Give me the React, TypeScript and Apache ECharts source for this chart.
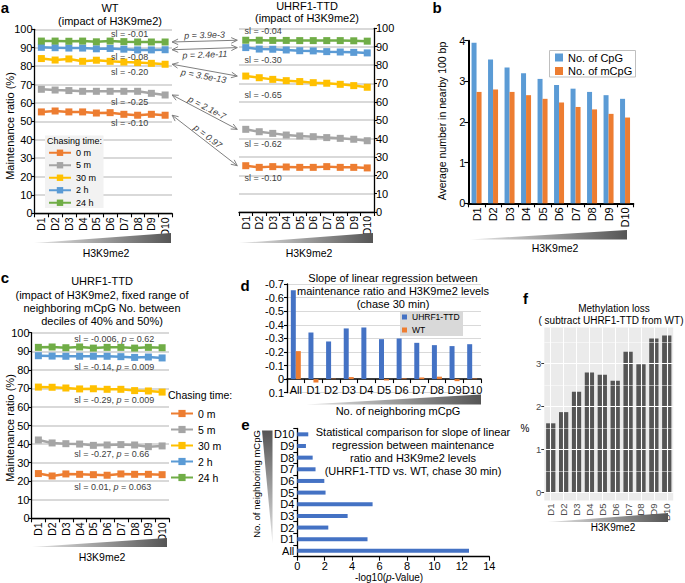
import React, { useEffect, useRef } from "react";
import * as echarts from "echarts";

const FONT = "'Liberation Sans', Arial, Helvetica, sans-serif";

// ---------- data ----------
const deciles = ["D1", "D2", "D3", "D4", "D5", "D6", "D7", "D8", "D9", "D10"];
const chaseTimes = ["0 m", "5 m", "30 m", "2 h", "24 h"];

// panel a, WT
const wt0m = [55.1, 55.6, 55.1, 55.1, 54.5, 54.7, 53.8, 53.3, 53.8, 53.3];
const wt5m = [67.4, 67.0, 66.7, 66.3, 66.3, 66.3, 66.3, 66.3, 65.2, 64.3];
const wt30m = [84.1, 83.3, 83.9, 82.6, 83.2, 82.6, 82.2, 81.9, 81.5, 81.0];
const wt2h = [90.2, 90.0, 89.8, 89.8, 89.4, 89.6, 89.2, 88.8, 88.8, 88.9];
const wt24h = [93.6, 93.6, 93.5, 93.6, 93.2, 93.6, 93.3, 93.1, 93.1, 93.1];

// panel a, UHRF1-TTD
const ttd0m = [25.2, 24.3, 24.7, 24.5, 24.3, 24.3, 24.7, 24.3, 24.3, 24.0];
const ttd5m = [45.0, 43.7, 42.8, 41.9, 41.4, 41.0, 40.5, 40.1, 39.6, 38.8];
const ttd30m = [74.0, 73.1, 72.2, 71.5, 71.0, 70.4, 70.1, 69.5, 68.8, 67.9];
const ttd2h = [89.5, 88.7, 88.6, 88.2, 87.8, 87.7, 87.3, 87.1, 86.9, 86.6];
const ttd24h = [93.5, 93.5, 93.4, 93.4, 93.3, 93.3, 93.3, 93.3, 93.2, 93.0];

// slopes / p-values (order: 0 m, 5 m, 30 m, 2 h, 24 h)
const wtSlopes = ["-0.10", "-0.25", "-0.20", "-0.08", "-0.01"];
const ttdSlopes = ["-0.10", "-0.62", "-0.65", "-0.30", "-0.04"];
const arrowP = ["0.97", "2.1e-7", "3.5e-13", "2.4e-11", "3.9e-3"];

// panel c
const fix0m = [24.1, 22.8, 23.9, 23.7, 23.5, 23.2, 23.9, 23.7, 23.7, 23.5];
const fix5m = [42.2, 40.6, 40.2, 40.0, 39.3, 39.5, 39.7, 39.5, 38.6, 39.0];
const fix30m = [70.7, 70.6, 70.2, 69.7, 69.8, 69.5, 69.5, 68.8, 68.6, 68.0];
const fix2h = [87.6, 87.4, 87.3, 87.3, 87.3, 87.3, 87.1, 86.7, 86.9, 86.4];
const fix24h = [92.1, 92.3, 91.9, 92.3, 91.7, 92.1, 92.1, 91.7, 92.1, 91.9];
const fixSlopes = ["0.01", "-0.27", "-0.29", "-0.14", "-0.006"];
const fixP = ["0.063", "0.66", "0.009", "0.009", "0.62"];

// panel b
const cpgCount = [3.95, 3.54, 3.34, 3.2, 3.06, 2.91, 2.82, 2.74, 2.66, 2.57];
const mcpgCount = [2.74, 2.8, 2.74, 2.66, 2.57, 2.48, 2.37, 2.31, 2.2, 2.11];

// panel d
const mcpgGroups = ["All", "D1", "D2", "D3", "D4", "D5", "D6", "D7", "D8", "D9", "D10"];
const slopeTTD = [-0.654, -0.343, -0.277, -0.373, -0.38, -0.294, -0.299, -0.267, -0.25, -0.243, -0.257];
const slopeWT = [-0.206, 0.025, -0.003, -0.015, 0, 0.01, -0.005, -0.012, -0.018, 0.015, -0.004];

// panel e
const negLogP = [12.52, 5.12, 2.26, 3.67, 5.49, 2.06, 1.97, 1.33, 1.12, 0.63, 0.8];

// panel f
const methLoss = [1.61, 1.87, 2.34, 2.79, 2.74, 2.6, 3.27, 2.98, 3.58, 3.65];
const fMajor = [0, 1, 2, 3];
const fMinor = [0.5, 1.5, 2.5, 3.5];

// ---------- styles ----------
const chaseColors = ["#ed7d31", "#a5a5a5", "#ffc000", "#5b9bd5", "#70ad47"];
const GRID_GRAY = "#d9d9d9";
const NOTE = "#404040";

// positions of slope notes (label placement)
const wtNotePos = [[111, 122.7], [111, 102], [111, 71.7], [111, 56.5], [111, 34]];
const ttdNotePos = [[244.6, 178.4], [244.6, 144.2], [244.6, 95.2], [244.6, 59.5], [244.6, 31.2]];
const fixNotePos = [[74.3, 487], [74.3, 453.5], [74.3, 400.4], [74.3, 367], [74.3, 339]];
const arrowLabelOffset = [5, 5, -6, -6, 6];

function txt(x: number, y: number, text: string, o: any = {}) {
  const align = o.align || "center";
  return {
    type: "text",
    x,
    y,
    rotation: o.rotation || 0,
    z: o.z ?? 6,
    silent: true,
    style: {
      text,
      fontSize: o.size || 11,
      fontFamily: FONT,
      fill: o.color || "#000",
      fontWeight: o.weight || "normal",
      fontStyle: o.italic ? "italic" : "normal",
      textAlign: align,
      textVerticalAlign: "middle",
      align,
      verticalAlign: "middle",
      rich: o.rich,
    },
  };
}

function wedge(points: number[][], vertical = false) {
  return {
    type: "polygon",
    silent: true,
    z: 1,
    shape: { points },
    style: {
      fill: vertical
        ? { type: "linear", x: 0, y: 0, x2: 0, y2: 1, colorStops: [{ offset: 0, color: "#555" }, { offset: 1, color: "#e6e6e6" }] }
        : { type: "linear", x: 0, y: 0, x2: 1, y2: 0, colorStops: [{ offset: 0, color: "#e6e6e6" }, { offset: 1, color: "#555" }] },
    },
  };
}

const axisBlack = (w = 1.3) => ({ show: true, lineStyle: { color: "#000", width: w } });
const tickBlack = (len = 3) => ({ show: true, length: len, lineStyle: { color: "#000", width: 1.1 } });

function catX(grid: number, data: string[], rotate: number, size = 10.5, w = 1.3) {
  return {
    gridIndex: grid,
    type: "category",
    data,
    boundaryGap: true,
    axisLine: axisBlack(w),
    axisTick: tickBlack(4),
    axisLabel: { rotate, fontSize: size, color: "#000", margin: 4, fontFamily: FONT, interval: 0 },
    splitLine: { show: false },
  };
}

function pctY(grid: number, position: "left" | "right") {
  return {
    gridIndex: grid,
    type: "value",
    position,
    min: 0,
    max: 100,
    interval: 10,
    axisLine: axisBlack(1.3),
    axisTick: tickBlack(3),
    axisLabel: { fontSize: 11, color: "#000", margin: 2, fontFamily: FONT },
    splitLine: { show: true, lineStyle: { color: GRID_GRAY, width: 1.8 } },
  };
}

function staticGraphics(): any[] {
  const g: any[] = [];
  // panel letters
  [["a", 5, 7], ["b", 437, 7], ["c", 5, 277], ["d", 245, 285.5], ["e", 245.5, 424.5], ["f", 525.5, 298.5]].forEach(
    ([l, x, y]: any) => g.push(txt(x, y, l, { size: 15, weight: "bold" }))
  );
  // titles
  g.push(txt(110, 7.5, "WT"), txt(110, 20.5, "(impact of H3K9me2)"));
  g.push(txt(307, 5.6, "UHRF1-TTD"), txt(307, 17.8, "(impact of H3K9me2)"));
  g.push(
    txt(102, 281, "UHRF1-TTD"),
    txt(102, 294.5, "(impact of H3K9me2, fixed range of"),
    txt(102, 307.5, "neighboring mCpG No. between"),
    txt(102, 320.5, "deciles of 40% and 50%)")
  );
  g.push(
    txt(393, 278, "Slope of linear regression between"),
    txt(393, 291, "maintenance ratio and H3K9me2 levels"),
    txt(393, 304, "(chase 30 min)")
  );
  g.push(
    txt(413, 432.3, "Statistical comparison for slope of linear"),
    txt(413, 445, "regression between maintenance"),
    txt(413, 458, "ratio and H3K9me2 levels"),
    txt(413, 471, "(UHRF1-TTD vs. WT, chase 30 min)")
  );
  g.push(txt(614, 308.5, "Methylation loss", { size: 10 }), txt(611, 320.5, "( subtract UHRF1-TTD from WT)", { size: 10 }));
  // axis titles
  g.push(txt(10, 126, "Maintenance ratio (%)", { rotation: Math.PI / 2 }));
  g.push(txt(10, 428, "Maintenance ratio (%)", { rotation: Math.PI / 2 }));
  g.push(txt(442, 121, "Average number in nearby 100 bp", { rotation: Math.PI / 2, size: 10.5 }));
  g.push(txt(256, 484, "No. of neighboring mCpG", { rotation: Math.PI / 2, size: 9.5 }));
  g.push(txt(525, 428, "%", { size: 10 }));
  g.push(txt(106, 253, "H3K9me2", { size: 10.5 }));
  g.push(txt(309, 253, "H3K9me2", { size: 10.5 }));
  g.push(txt(555, 248, "H3K9me2", { size: 10.5 }));
  g.push(txt(102, 557, "H3K9me2", { size: 10.5 }));
  g.push(txt(613, 527.5, "H3K9me2", { size: 10 }));
  g.push(txt(398, 410.5, "No. of neighboring mCpG", { size: 11 }));
  g.push(
    txt(389, 577, "-log10({i|p}-Value)", {
      size: 10,
      rich: { i: { fontStyle: "italic", fontSize: 10, fontFamily: FONT, fill: "#000" } },
    })
  );
  // wedges
  g.push(wedge([[34, 243], [171, 233], [171, 243]]));
  g.push(wedge([[239, 243], [373, 233], [373, 243]]));
  g.push(wedge([[470, 239.5], [627, 230], [627, 239.5]]));
  g.push(wedge([[32, 547], [167, 538], [167, 547]]));
  g.push(wedge([[306, 404.5], [481, 394.5], [481, 404.5]]));
  g.push(wedge([[262, 430.5], [272.5, 430.5], [272.5, 543]], true));
  g.push(wedge([[548, 522], [668, 513], [668, 522]]));
  // slope notes
  for (let k = 0; k < 5; k++) {
    g.push(txt(wtNotePos[k][0], wtNotePos[k][1], "sl = " + wtSlopes[k], { size: 9, align: "left", color: NOTE }));
    g.push(txt(ttdNotePos[k][0], ttdNotePos[k][1], "sl = " + ttdSlopes[k], { size: 9, align: "left", color: NOTE }));
    g.push(
      txt(fixNotePos[k][0], fixNotePos[k][1], "sl = " + fixSlopes[k] + ", {i|p} = " + fixP[k], {
        size: 9,
        align: "left",
        color: NOTE,
        rich: { i: { fontStyle: "italic", fontSize: 9, fontFamily: FONT, fill: NOTE } },
      })
    );
  }
  // legend decorations
  g.push({ type: "rect", z: 5, silent: true, shape: { x: 45, y: 135.5, width: 58.5, height: 72.5 }, style: { fill: "#f2f2f2" } });
  g.push(txt(47, 141.3, "Chasing time:", { size: 9, align: "left", z: 11 }));
  g.push(txt(168, 395, "Chasing time:", { size: 10.5, align: "left" }));
  g.push({
    type: "rect",
    z: 5,
    silent: true,
    shape: { x: 549.5, y: 50.5, width: 86, height: 26.5 },
    style: { fill: "#fff", stroke: "#bfbfbf", lineWidth: 1 },
  });
  g.push({ type: "rect", z: 5, silent: true, shape: { x: 400, y: 311.5, width: 63, height: 24.5 }, style: { fill: "#d9d9d9" } });
  return g;
}

function buildOption(extra: any[]) {
  const series: any[] = [];
  const sets = [
    { axis: 0, data: [wt0m, wt5m, wt30m, wt2h, wt24h] },
    { axis: 1, data: [ttd0m, ttd5m, ttd30m, ttd2h, ttd24h] },
    { axis: 3, data: [fix0m, fix5m, fix30m, fix2h, fix24h] },
  ];
  sets.forEach((s) =>
    s.data.forEach((d, k) =>
      series.push({
        type: "line",
        name: chaseTimes[k],
        data: d,
        xAxisIndex: s.axis,
        yAxisIndex: s.axis,
        symbol: "rect",
        symbolSize: 7,
        lineStyle: { color: chaseColors[k], width: 2.5 },
        itemStyle: { color: chaseColors[k] },
        z: 3,
        silent: true,
      })
    )
  );
  // b
  series.push(
    { type: "bar", name: "No. of CpG", data: cpgCount, xAxisIndex: 2, yAxisIndex: 2, barWidth: 5, barGap: "0%", itemStyle: { color: "#5b9bd5" } },
    { type: "bar", name: "No. of mCpG", data: mcpgCount, xAxisIndex: 2, yAxisIndex: 2, barWidth: 5, barGap: "0%", itemStyle: { color: "#ed7d31" } }
  );
  // d
  series.push(
    { type: "bar", name: "UHRF1-TTD", data: slopeTTD, xAxisIndex: 4, yAxisIndex: 4, barWidth: 5, barGap: "0%", itemStyle: { color: "#4472c4" } },
    { type: "bar", name: "WT", data: slopeWT, xAxisIndex: 4, yAxisIndex: 4, barWidth: 5, barGap: "0%", itemStyle: { color: "#ed7d31" } }
  );
  // e
  series.push({ type: "bar", name: "-log10(p)", data: negLogP, xAxisIndex: 5, yAxisIndex: 5, barWidth: 4, itemStyle: { color: "#4472c4" } });
  // f grid lines (ggplot style) + bars
  const fLines: any[] = [];
  fMinor.forEach((v) => fLines.push({ yAxis: v, lineStyle: { width: 0.5 } }));
  fMajor.forEach((v) => fLines.push({ yAxis: v, lineStyle: { width: 1.1 } }));
  deciles.forEach((c) => fLines.push({ xAxis: c, lineStyle: { width: 1.1 } }));
  series.push({
    type: "line",
    name: "fgrid",
    data: methLoss,
    xAxisIndex: 6,
    yAxisIndex: 6,
    showSymbol: false,
    lineStyle: { opacity: 0 },
    itemStyle: { opacity: 0 },
    z: 1,
    silent: true,
    markLine: {
      silent: true,
      symbol: ["none", "none"],
      label: { show: false },
      lineStyle: { color: "#ffffff", type: "solid" },
      data: fLines,
    },
  });
  series.push({ type: "bar", name: "Methylation loss", data: methLoss, xAxisIndex: 6, yAxisIndex: 6, barWidth: "72%", itemStyle: { color: "#555555" }, z: 3 });

  return {
    animation: false,
    backgroundColor: "#ffffff",
    textStyle: { fontFamily: FONT },
    grid: [
      { left: 34.5, top: 29.3, width: 137.5, height: 184 },
      { left: 239, top: 28.3, width: 135, height: 183.7 },
      { left: 468.3, top: 40.7, width: 165, height: 162.6 },
      { left: 31.5, top: 332.7, width: 137.5, height: 185.6 },
      { left: 287, top: 284, width: 194, height: 108.7 },
      { left: 297.3, top: 428.5, width: 192, height: 128.2 },
      { left: 544.3, top: 327.6, width: 128.9, height: 172.9, show: true, backgroundColor: "#ebebeb", borderWidth: 0 },
    ],
    xAxis: [
      catX(0, deciles, 90),
      catX(1, deciles, 90),
      catX(2, deciles, 90, 11, 2),
      catX(3, deciles, 90),
      {
        ...catX(4, mcpgGroups, 0, 11, 1.5),
        offset: -13.6,
        axisLine: { show: true, onZero: false, lineStyle: { color: "#000", width: 1.5 } },
        axisLabel: { fontSize: 11, color: "#000", margin: 5, fontFamily: FONT, interval: 0 },
      },
      {
        gridIndex: 5,
        type: "value",
        min: 0,
        max: 14,
        interval: 2,
        axisLine: axisBlack(1.3),
        axisTick: tickBlack(4),
        axisLabel: { fontSize: 11, color: "#000", margin: 4, fontFamily: FONT },
        splitLine: { show: false },
      },
      {
        gridIndex: 6,
        type: "category",
        data: deciles,
        boundaryGap: true,
        axisLine: { show: false },
        axisTick: { show: true, alignWithLabel: true, length: 3, lineStyle: { color: "#333", width: 1 } },
        axisLabel: { rotate: 90, fontSize: 9.5, color: "#4d4d4d", margin: 3, fontFamily: FONT, interval: 0 },
        splitLine: { show: false },
      },
    ],
    yAxis: [
      pctY(0, "left"),
      pctY(1, "right"),
      {
        gridIndex: 2,
        type: "value",
        min: 0,
        max: 4,
        interval: 1,
        axisLine: axisBlack(2),
        axisTick: tickBlack(4),
        axisLabel: { fontSize: 11, color: "#000", margin: 3, fontFamily: FONT },
        splitLine: { show: false },
      },
      pctY(3, "left"),
      {
        gridIndex: 4,
        type: "value",
        inverse: true,
        min: -0.7,
        max: 0.1,
        interval: 0.1,
        axisLine: axisBlack(1.3),
        axisTick: tickBlack(3),
        axisLabel: {
          fontSize: 11,
          color: "#000",
          margin: 3,
          fontFamily: FONT,
          formatter: (v: number) => (Math.abs(v) < 1e-9 ? "0" : v.toFixed(1)),
        },
        splitLine: { show: true, lineStyle: { color: GRID_GRAY, width: 1 } },
      },
      {
        gridIndex: 5,
        type: "category",
        data: mcpgGroups,
        boundaryGap: true,
        axisLine: axisBlack(1.3),
        axisTick: tickBlack(4),
        axisLabel: { fontSize: 11, color: "#000", margin: 3, fontFamily: FONT, interval: 0 },
        splitLine: { show: false },
      },
      {
        gridIndex: 6,
        type: "value",
        min: -0.1825,
        max: 3.8325,
        splitNumber: 4,
        axisLine: { show: false },
        axisTick: { show: true, length: 3, lineStyle: { color: "#333", width: 1 }, customValues: fMajor },
        axisLabel: {
          fontSize: 9.5,
          color: "#4d4d4d",
          margin: 3,
          fontFamily: FONT,
          customValues: fMajor,
          formatter: (v: number) => (Math.abs(v - Math.round(v)) < 1e-6 ? String(Math.round(v)) : ""),
        },
        splitLine: { show: false },
      },
    ],
    legend: [
      {
        data: chaseTimes,
        orient: "vertical",
        left: 48,
        top: 147.5,
        padding: 0,
        itemWidth: 22,
        itemHeight: 8,
        itemGap: 2,
        selectedMode: false,
        z: 10,
        textStyle: { fontSize: 9, lineHeight: 10.5, color: "#000", fontFamily: FONT },
      },
      {
        data: chaseTimes,
        orient: "vertical",
        left: 170,
        top: 407,
        padding: 0,
        itemWidth: 22,
        itemHeight: 9,
        itemGap: 3,
        selectedMode: false,
        textStyle: { fontSize: 10.5, lineHeight: 13, color: "#000", fontFamily: FONT },
      },
      {
        data: ["No. of CpG", "No. of mCpG"],
        orient: "vertical",
        left: 555,
        top: 51,
        padding: 0,
        icon: "rect",
        itemWidth: 8,
        itemHeight: 8,
        itemGap: 0.5,
        selectedMode: false,
        z: 10,
        textStyle: { fontSize: 11, lineHeight: 13, color: "#000", fontFamily: FONT },
      },
      {
        data: ["UHRF1-TTD", "WT"],
        orient: "vertical",
        left: 402,
        top: 311.5,
        padding: 0,
        icon: "rect",
        itemWidth: 5,
        itemHeight: 5,
        itemGap: 2,
        selectedMode: false,
        z: 10,
        textStyle: { fontSize: 8.5, lineHeight: 11, color: "#000", fontFamily: FONT },
      },
    ],
    graphic: [...staticGraphics(), ...extra],
    series,
  };
}

function buildArrows(chart: any): any[] {
  const wtSets = [wt0m, wt5m, wt30m, wt2h, wt24h];
  const ttdSets = [ttd0m, ttd5m, ttd30m, ttd2h, ttd24h];
  const out: any[] = [];
  for (let k = 0; k < 5; k++) {
    const p1 = chart.convertToPixel({ seriesIndex: k }, ["D10", wtSets[k][9]]);
    const p2 = chart.convertToPixel({ seriesIndex: 5 + k }, ["D1", ttdSets[k][0]]);
    if (!p1 || !p2) continue;
    const s = [p1[0] + 7, p1[1]];
    const e = [p2[0] - 8.5, p2[1]];
    const dx = e[0] - s[0];
    const dy = e[1] - s[1];
    const len = Math.sqrt(dx * dx + dy * dy);
    const ux = dx / len;
    const uy = dy / len;
    const nx = -uy;
    const ny = ux;
    const stroke = "#7f7f7f";
    out.push({ type: "line", silent: true, z: 4, shape: { x1: s[0], y1: s[1], x2: e[0], y2: e[1] }, style: { stroke, lineWidth: 1 } });
    const hl = 6;
    const hw = 2.8;
    out.push({
      type: "polyline",
      silent: true,
      z: 4,
      shape: { points: [[e[0] - ux * hl + nx * hw, e[1] - uy * hl + ny * hw], [e[0], e[1]], [e[0] - ux * hl - nx * hw, e[1] - uy * hl - ny * hw]] },
      style: { stroke, lineWidth: 1, fill: null },
    });
    out.push({
      type: "polyline",
      silent: true,
      z: 4,
      shape: { points: [[s[0] + ux * hl + nx * hw, s[1] + uy * hl + ny * hw], [s[0], s[1]], [s[0] + ux * hl - nx * hw, s[1] + uy * hl - ny * hw]] },
      style: { stroke, lineWidth: 1, fill: null },
    });
    const off = arrowLabelOffset[k];
    const mx = (s[0] + e[0]) / 2 + uy * off;
    const my = (s[1] + e[1]) / 2 - ux * off;
    out.push(txt(mx, my, "p = " + arrowP[k], { size: 9, italic: true, color: NOTE, rotation: -Math.atan2(dy, dx) }));
  }
  return out;
}

export default function App() {
  const ref = useRef<HTMLDivElement | null>(null);
  useEffect(() => {
    if (!ref.current) return;
    const chart = echarts.init(ref.current, null, { renderer: "svg" });
    chart.setOption(buildOption([]) as any);
    let arrows: any[] = [];
    try {
      arrows = buildArrows(chart);
    } catch (err) {
      arrows = [];
    }
    chart.setOption(buildOption(arrows) as any, { notMerge: true });
    return () => chart.dispose();
  }, []);
  return (
    <div
      ref={ref}
      style={{ position: "fixed", left: 0, top: 0, width: 685, height: 583, background: "#fff" }}
    />
  );
}
